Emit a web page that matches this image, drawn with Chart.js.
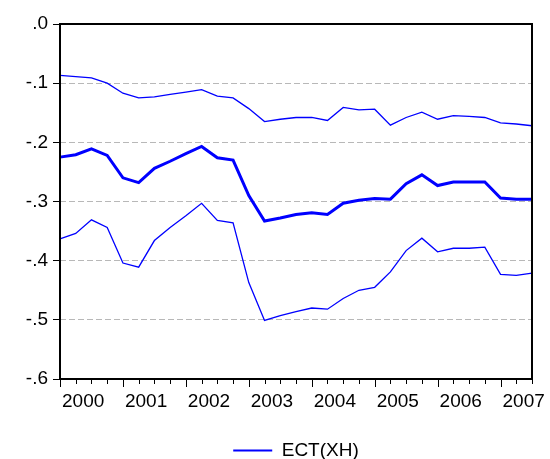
<!DOCTYPE html>
<html>
<head>
<meta charset="utf-8">
<script src="https://cdn.jsdelivr.net/npm/chart.js@4/dist/chart.umd.min.js"></script>
<style>
  html, body { margin: 0; padding: 0; background: #ffffff; }
  #wrap { width: 550px; height: 459px; position: relative; }
</style>
</head>
<body>
<div id="wrap"><canvas id="c" width="550" height="459"></canvas></div>
<script>
// ---- data (quarterly, 2000Q1 .. 2007Q3) ----
const years = ['2000', '2001', '2002', '2003', '2004', '2005', '2006', '2007'];
const quarters = ['Q1', 'Q2', 'Q3', 'Q4'];
const categories = [];
years.forEach(y => quarters.forEach(q => categories.push(y + q)));
categories.length = 31; // last observation 2007Q3

const upperBand = [-0.087, -0.089, -0.091, -0.100, -0.117, -0.125, -0.123, -0.119, -0.115, -0.111,
                   -0.122, -0.125, -0.143, -0.165, -0.161, -0.158, -0.158, -0.163, -0.141, -0.145,
                   -0.144, -0.171, -0.158, -0.149, -0.161, -0.155, -0.156, -0.158, -0.167, -0.169, -0.172];
const ectXH =     [-0.225, -0.221, -0.211, -0.222, -0.260, -0.268, -0.244, -0.232, -0.219, -0.207,
                   -0.226, -0.230, -0.290, -0.333, -0.328, -0.322, -0.319, -0.322, -0.303, -0.298,
                   -0.295, -0.296, -0.270, -0.255, -0.273, -0.267, -0.267, -0.267, -0.294, -0.296, -0.296];
const lowerBand = [-0.363, -0.354, -0.331, -0.344, -0.404, -0.411, -0.366, -0.344, -0.324, -0.303,
                   -0.332, -0.336, -0.437, -0.501, -0.493, -0.486, -0.480, -0.482, -0.464, -0.450,
                   -0.445, -0.419, -0.383, -0.362, -0.385, -0.379, -0.379, -0.377, -0.423, -0.425, -0.421];
const seriesName = 'ECT(XH)';
const yTicks = [0, -0.1, -0.2, -0.3, -0.4, -0.5, -0.6];

const BLUE = '#0000ff';
const FONT = { family: "'Liberation Sans', Arial, sans-serif", size: 19 };

// frame + quarterly tick marks
const framePlugin = {
  id: 'frame',
  afterDatasetsDraw(chart) {
    const { ctx, chartArea: a, scales } = chart;
    ctx.save();
    ctx.strokeStyle = '#000';
    ctx.lineWidth = 2;
    ctx.strokeRect(a.left, a.top, a.right - a.left, a.bottom - a.top);
    ctx.lineWidth = 1;
    const xs = scales.x;
    for (let i = 0; i < categories.length; i++) {
      const px = Math.round(xs.getPixelForValue(i)) + 0.5;
      const len = (i % 4 === 0) ? 8 : 5;
      ctx.beginPath();
      ctx.moveTo(px, a.bottom);
      ctx.lineTo(px, a.bottom + len);
      ctx.stroke();
    }
    ctx.restore();
  }
};

new Chart(document.getElementById('c'), {
  type: 'line',
  data: {
    labels: categories,
    datasets: [
      { label: seriesName + ' upper', data: upperBand, borderColor: BLUE, borderWidth: 1.3, pointRadius: 0, tension: 0, fill: false },
      { label: seriesName, data: ectXH, borderColor: BLUE, borderWidth: 3, pointRadius: 0, tension: 0, fill: false },
      { label: seriesName + ' lower', data: lowerBand, borderColor: BLUE, borderWidth: 1.3, pointRadius: 0, tension: 0, fill: false }
    ]
  },
  options: {
    responsive: false,
    animation: false,
    layout: { padding: { left: 0, top: 24, right: 18, bottom: -11 } },
    plugins: {
      tooltip: { enabled: false },
      legend: {
        position: 'bottom',
        fullSize: false,
        labels: {
          font: FONT,
          color: '#000',
          padding: 1,
          boxWidth: 39,
          boxHeight: 2,
          generateLabels: () => [{
            text: seriesName,
            fillStyle: BLUE,
            strokeStyle: BLUE,
            lineWidth: 0,
            hidden: false,
            datasetIndex: 1,
            fontColor: '#000'
          }]
        }
      }
    },
    scales: {
      x: {
        type: 'category',
        offset: false,
        grid: { display: false },
        border: { display: false },
        ticks: {
          autoSkip: false,
          maxRotation: 0,
          minRotation: 0,
          align: 'start',
          labelOffset: 2,
          padding: 3,
          color: '#000',
          font: FONT,
          callback: (v, i) => categories[i].endsWith('Q1') ? categories[i].slice(0, 4) : ''
        },
        afterFit: s => { s.height = 61; s.paddingLeft = 0; s.paddingRight = 0; }
      },
      y: {
        min: -0.6,
        max: 0,
        afterBuildTicks: s => { s.ticks = yTicks.map(v => ({ value: v })); },
        grid: {
          color: c => (c.tick && (Math.abs(c.tick.value) < 1e-9 || Math.abs(c.tick.value + 0.6) < 1e-9)) ? 'rgba(0,0,0,0)' : '#b8b8b8',
          lineWidth: 1,
          tickColor: '#000',
          tickLength: 7,
          drawTicks: true
        },
        border: { display: false, dash: [6, 3] },
        ticks: {
          padding: 5,
          color: '#000',
          font: FONT,
          callback: v => (Math.abs(v) < 1e-9 ? '.0' : v.toFixed(1).replace('0.', '.'))
        },
        afterFit: s => { s.width = 60; s.paddingTop = 0; s.paddingBottom = 0; }
      }
    }
  },
  plugins: [framePlugin]
});
</script>
</body>
</html>
